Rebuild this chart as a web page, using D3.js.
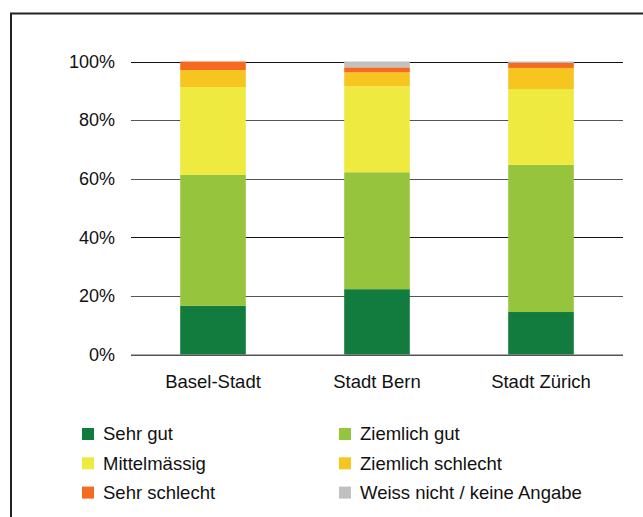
<!DOCTYPE html>
<html>
<head>
<meta charset="utf-8">
<script src="https://cdn.jsdelivr.net/npm/d3@7"></script>
<style>
  body { margin: 0; background: #fff; }
  svg { display: block; font-family: "Liberation Sans", Arial, sans-serif; }
</style>
</head>
<body>
<div id="chart"></div>
<script>
// Data
var cities = ["Basel-Stadt", "Stadt Bern", "Stadt Zürich"];
var answers = ["Sehr gut", "Ziemlich gut", "Mittelmässig", "Ziemlich schlecht", "Sehr schlecht", "Weiss nicht / keine Angabe"];
var sehrGut = [16.6, 22.3, 14.5];
var ziemlichGut = [44.7, 39.9, 50.2];
var mittel = [30.0, 29.3, 25.9];
var ziemlichSchlecht = [5.8, 4.8, 7.2];
var sehrSchlecht = [2.9, 1.7, 1.7];
var weissNicht = [0.0, 2.0, 0.5];
var yTicks = [0, 20, 40, 60, 80, 100];
var colors = ["#127c3e", "#96c43c", "#eeea40", "#f6c520", "#f56a21", "#c0c0c0"];

var W = 643, H = 517;
var fontSize = 18.5;
var series = [sehrGut, ziemlichGut, mittel, ziemlichSchlecht, sehrSchlecht, weissNicht];

// build rows for d3.stack
var rows = cities.map(function(c, i) {
  var r = {city: c};
  answers.forEach(function(a, k) { r[a] = series[k][i]; });
  return r;
});

var svg = d3.select("#chart").append("svg")
  .attr("width", W)
  .attr("height", H);

// outer frame, runs off the right and bottom edge
svg.append("rect")
  .attr("x", 11).attr("y", 13.5)
  .attr("width", W).attr("height", H)
  .attr("fill", "none")
  .attr("stroke", "#222")
  .attr("stroke-width", 2);

var x = d3.scaleBand().domain(cities).range([131, 623]).paddingInner(0.6).paddingOuter(0.3);
var y = d3.scaleLinear().domain([0, 100]).range([354.5, 61.5]);

// gridlines + tick labels
var grid = svg.append("g");
grid.selectAll("line")
  .data(yTicks)
  .enter().append("line")
  .attr("x1", 131).attr("x2", 623)
  .attr("y1", function(d) { return Math.round(y(d)) + 0.5; })
  .attr("y2", function(d) { return Math.round(y(d)) + 0.5; })
  .attr("stroke", function(d) { return d == 100 || d == 40 ? "#111" : "#555"; })
  .attr("stroke-width", 1);

grid.selectAll("text")
  .data(yTicks)
  .enter().append("text")
  .attr("x", 115)
  .attr("y", function(d) { return y(d); })
  .attr("dy", "0.35em")
  .attr("text-anchor", "end")
  .attr("font-size", 18)
  .attr("fill", "#111")
  .text(function(d) { return d + "%"; });

// stacked bars
var stack = d3.stack().keys(answers);
var layers = stack(rows);

svg.append("g").selectAll("g")
  .data(layers)
  .enter().append("g")
  .attr("fill", function(d, i) { return colors[i]; })
  .selectAll("rect")
  .data(function(d) { return d; })
  .enter().append("rect")
  .attr("x", function(d) { return x(d.data.city); })
  .attr("width", x.bandwidth())
  .attr("y", function(d) { return y(d[1]); })
  .attr("height", function(d) { return y(d[0]) - y(d[1]); });

// baseline drawn over bars
svg.append("line")
  .attr("x1", 131).attr("x2", 623)
  .attr("y1", 355).attr("y2", 355)
  .attr("stroke", "#555");

// category labels
svg.append("g").selectAll("text")
  .data(cities)
  .enter().append("text")
  .attr("x", function(d) { return x(d) + x.bandwidth() / 2; })
  .attr("y", 387.5)
  .attr("text-anchor", "middle")
  .attr("font-size", fontSize)
  .attr("fill", "#111")
  .text(function(d) { return d; });

// legend, two columns
var legend = svg.append("g").selectAll("g")
  .data(answers)
  .enter().append("g")
  .attr("transform", function(d, i) {
    var col = i % 2, row = Math.floor(i / 2);
    return "translate(" + (col == 0 ? 82 : 339) + "," + (428 + row * 29.3) + ")";
  });

legend.append("rect")
  .attr("width", 12).attr("height", 12)
  .attr("fill", function(d, i) { return colors[i]; });

legend.append("text")
  .attr("x", 21)
  .attr("y", 6)
  .attr("dy", "0.35em")
  .attr("font-size", fontSize)
  .attr("fill", "#111")
  .text(function(d) { return d; });
</script>
</body>
</html>
